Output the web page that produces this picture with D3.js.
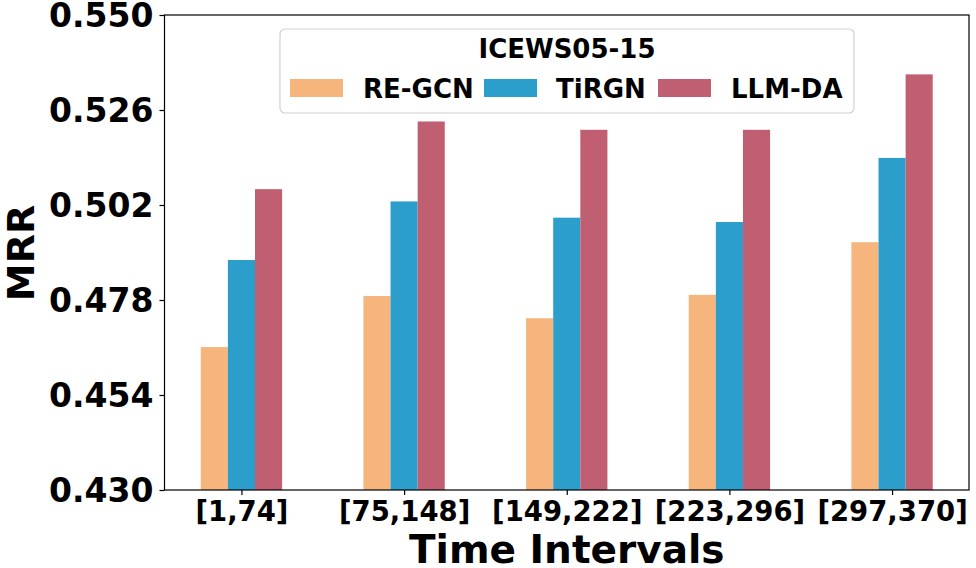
<!DOCTYPE html>
<meta charset="utf-8" />
<script src="https://d3js.org/d3.v7.min.js"></script>
<body style="margin: 0; background: #ffffff">
  <div id="chart"></div>
  <script>
    var intervals = ["[1,74]", "[75,148]", "[149,222]", "[223,296]", "[297,370]"];
    var models = ["RE-GCN", "TiRGN", "LLM-DA"];
    var reGcn = [0.4661, 0.479, 0.4734, 0.4793, 0.4926];
    var tirgn = [0.4881, 0.5029, 0.4988, 0.4977, 0.5139];
    var llmDa = [0.506, 0.5231, 0.521, 0.521, 0.535];
    var yTicks = [0.43, 0.454, 0.478, 0.502, 0.526, 0.55];
    var colors = ["#F5B57C", "#2B9ECB", "#C15F72"];

    var series = [reGcn, tirgn, llmDa];
    var font = "'DejaVu Sans', sans-serif";

    var margin = { top: 15, right: 7, bottom: 78, left: 164.5 },
      width = 976 - margin.left - margin.right,
      height = 568 - margin.top - margin.bottom;

    var svg = d3
      .select("#chart")
      .append("svg")
      .attr("width", 976)
      .attr("height", 568)
      .append("g")
      .attr("transform", "translate(" + margin.left + "," + margin.top + ")");

    var x = d3.scalePoint().domain(intervals).range([0, width]).padding(0.473);
    var step = x.step();
    var xSub = d3
      .scaleBand()
      .domain(models)
      .range([-step / 4, step / 4]);
    var y = d3.scaleLinear().domain([0.43, 0.55]).range([height, 0]);

    // bars
    models.forEach(function (m, i) {
      svg
        .append("g")
        .selectAll("rect")
        .data(series[i])
        .enter()
        .append("rect")
        .attr("x", function (d, j) {
          return x(intervals[j]) + xSub(m);
        })
        .attr("y", function (d) {
          return y(d);
        })
        .attr("width", xSub.bandwidth())
        .attr("height", function (d) {
          return height - y(d);
        })
        .attr("fill", colors[i]);
    });

    // axes
    var xAxis = svg
      .append("g")
      .attr("transform", "translate(0," + height + ")")
      .call(d3.axisBottom(x).tickSize(5).tickPadding(6));
    xAxis
      .selectAll("text")
      .style("font-family", font)
      .style("font-weight", "bold")
      .style("font-size", "27.5px")
      .attr("fill", "#000");

    var yAxis = svg
      .append("g")
      .call(
        d3
          .axisLeft(y)
          .tickValues(yTicks)
          .tickFormat(d3.format(".3f"))
          .tickSize(5)
          .tickPadding(6)
      );
    yAxis
      .selectAll("text")
      .style("font-family", font)
      .style("font-weight", "bold")
      .style("font-size", "33px")
      .attr("dy", "0.36em")
      .attr("fill", "#000");

    [xAxis, yAxis].forEach(function (a) {
      a.select(".domain").remove();
      a.selectAll("line").attr("stroke", "#000").attr("stroke-width", 1.2);
    });

    svg
      .append("rect")
      .attr("width", width)
      .attr("height", height)
      .attr("fill", "none")
      .attr("stroke", "#000")
      .attr("stroke-width", 1.2);

    // axis titles
    svg
      .append("text")
      .attr("x", width / 2)
      .attr("y", height + 73)
      .attr("text-anchor", "middle")
      .style("font-family", font)
      .style("font-weight", "bold")
      .style("font-size", "39px")
      .text("Time Intervals");

    svg
      .append("text")
      .attr("transform", "rotate(-90)")
      .attr("x", -(253 - margin.top))
      .attr("y", -margin.left + 34)
      .attr("text-anchor", "middle")
      .style("font-family", font)
      .style("font-weight", "bold")
      .style("font-size", "38px")
      .text("MRR");

    // legend
    var legend = svg
      .append("g")
      .attr("transform", "translate(" + (280 - margin.left) + "," + (29 - margin.top) + ")");
    legend
      .append("rect")
      .attr("width", 574)
      .attr("height", 84)
      .attr("rx", 5)
      .attr("fill", "#fff")
      .attr("fill-opacity", 0.8)
      .attr("stroke", "#d0d0d0")
      .attr("stroke-width", 1.2);
    legend
      .append("text")
      .attr("x", 287)
      .attr("y", 29)
      .attr("text-anchor", "middle")
      .style("font-family", font)
      .style("font-weight", "bold")
      .style("font-size", "26px")
      .text("ICEWS05-15");

    var patchX = [10, 204, 378];
    var labelX = [83, 276, 451];
    models.forEach(function (m, i) {
      legend
        .append("rect")
        .attr("x", patchX[i])
        .attr("y", 50)
        .attr("width", 53)
        .attr("height", 18)
        .attr("fill", colors[i]);
      legend
        .append("text")
        .attr("x", labelX[i])
        .attr("y", 69)
        .style("font-family", font)
        .style("font-weight", "bold")
        .style("font-size", "26px")
        .text(m);
    });
  </script>
</body>
